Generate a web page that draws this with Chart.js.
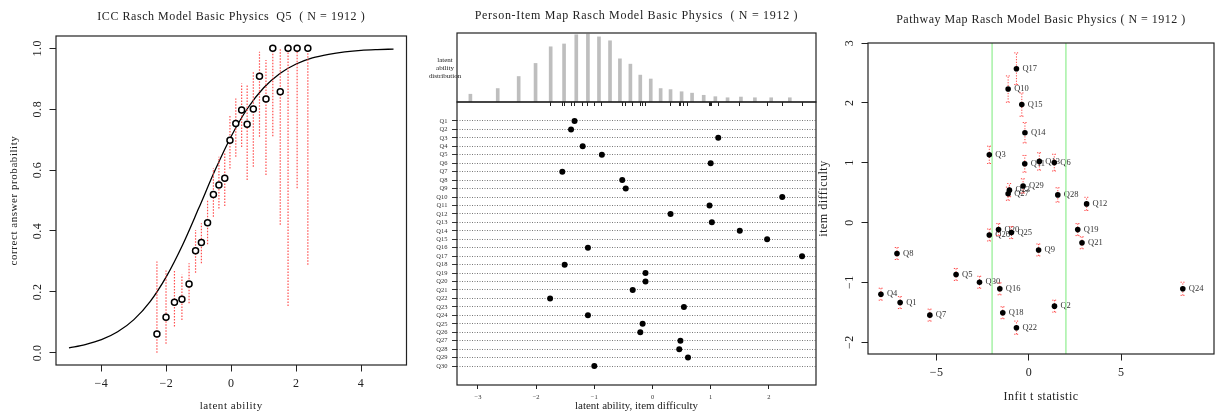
<!DOCTYPE html>
<html>
<head>
<meta charset="utf-8">
<script src="https://cdn.jsdelivr.net/npm/chart.js@4.4.1/dist/chart.umd.min.js"></script>
<style>
html, body { margin: 0; padding: 0; background: #fff; overflow: hidden; width: 1215px; height: 413px; }
canvas { position: absolute; }
#icc { left: 0; top: 0; }
#hist { left: 405px; top: 0; }
#dots { left: 405px; top: 90px; }
#path { left: 815px; top: 0; }
</style>
</head>
<body>
<canvas id="icc" width="412" height="413"></canvas>
<canvas id="hist" width="420" height="110"></canvas>
<canvas id="dots" width="420" height="323"></canvas>
<canvas id="path" width="403" height="413"></canvas>
<script>
// ---- data ----
const itemNames = ['Q1','Q2','Q3','Q4','Q5','Q6','Q7','Q8','Q9','Q10','Q11','Q12','Q13','Q14','Q15',
                   'Q16','Q17','Q18','Q19','Q20','Q21','Q22','Q23','Q24','Q25','Q26','Q27','Q28','Q29','Q30'];
const itemDifficulty = [-1.34, -1.40, 1.13, -1.20, -0.87, 1.00, -1.55, -0.52, -0.46, 2.23,
                        0.98, 0.31, 1.02, 1.50, 1.97, -1.11, 2.57, -1.51, -0.12, -0.12,
                        -0.34, -1.76, 0.54, -1.11, -0.17, -0.21, 0.48, 0.46, 0.61, -1.00];
const itemInfitT = [-6.98, 1.38, -2.15, -8.02, -3.95, 1.37, -5.37, -7.15, 0.52, -1.13,
                    -0.23, 3.12, 0.56, -0.22, -0.39, -1.58, -0.68, -1.42, 2.64, -1.65,
                    2.87, -0.68, -1.06, 8.33, -0.95, -2.15, -1.13, 1.56, -0.32, -2.68];
const itemCI = [0.10, 0.10, 0.145, 0.10, 0.10, 0.14, 0.10, 0.10, 0.10, 0.22,
                0.14, 0.11, 0.145, 0.17, 0.195, 0.10, 0.265, 0.10, 0.10, 0.10,
                0.10, 0.11, 0.11, 0.11, 0.10, 0.10, 0.11, 0.12, 0.12, 0.10];
const infitBounds = [-2, 2];

// person ability distribution (histogram)
const personAbility = [-3.13, -2.66, -2.30, -2.01, -1.75, -1.52, -1.31, -1.11, -0.92, -0.73,
                       -0.56, -0.38, -0.21, -0.03, 0.14, 0.31, 0.50, 0.68, 0.88, 1.08,
                       1.29, 1.52, 1.76, 2.04, 2.36];
const personCount = [22, 38, 72, 109, 156, 164, 190, 192, 184, 173,
                     122, 107, 76, 65, 38, 35, 29, 25, 19, 15,
                     12, 14, 12, 12, 12];

// ICC for Q5
const groupAbility = [-2.29, -2.01, -1.75, -1.52, -1.30, -1.10, -0.92, -0.73, -0.55, -0.38,
                      -0.20, -0.04, 0.14, 0.32, 0.49, 0.68, 0.87, 1.07, 1.28, 1.51,
                      1.75, 2.03, 2.36];
const observedProp = [0.062, 0.117, 0.166, 0.176, 0.226, 0.335, 0.362, 0.427, 0.520, 0.551,
                      0.573, 0.698, 0.753, 0.797, 0.750, 0.800, 0.908, 0.833, 1.0, 0.857,
                      1.0, 1.0, 1.0];
const ciLower = [0.0, 0.03, 0.086, 0.108, 0.163, 0.263, 0.294, 0.356, 0.447, 0.474,
                 0.482, 0.605, 0.644, 0.676, 0.567, 0.611, 0.709, 0.584, 0.711, 0.42,
                 0.154, 0.54, 0.289];
const ciUpper = [0.30, 0.27, 0.27, 0.256, 0.294, 0.403, 0.425, 0.50, 0.606, 0.644,
                 0.66, 0.777, 0.835, 0.884, 0.879, 0.922, 0.988, 0.961, 1.0, 1.0,
                 1.0, 1.0, 1.0];
const curveTheta = [-5, -4.5, -4, -3.5, -3, -2.5, -2, -1.5, -1, -0.5, 0,
                    0.5, 1, 1.5, 2, 2.5, 3, 3.5, 4, 4.5, 5];
const curveProb = [0.016, 0.027, 0.043, 0.069, 0.109, 0.168, 0.250, 0.354, 0.475, 0.599, 0.711,
                   0.802, 0.870, 0.917, 0.948, 0.968, 0.980, 0.988, 0.993, 0.9955, 0.997];

// tick labels
const iccXTicks = [-4, -2, 0, 2, 4];
const iccYTicks = [0, 0.2, 0.4, 0.6, 0.8, 1.0];
const mapXTicks = [-3, -2, -1, 0, 1, 2];
const pathXTicks = [-5, 0, 5];
const pathYTicks = [-2, -1, 0, 1, 2, 3];

// ---- helpers ----
Chart.defaults.font.family = "'Liberation Serif', 'DejaVu Serif', serif";
Chart.defaults.color = '#222';

const minus = v => String(v).replace('-', '\u2212');
const fixW = w => s => { s.width = w; };
const fixH = h => s => { s.height = h; };
const setTicks = arr => s => { s.ticks = arr.map(v => ({ value: v })); };

const boxPlugin = {
    id: 'box',
    afterDraw(chart) {
        const { ctx, chartArea: a } = chart;
        ctx.save();
        ctx.strokeStyle = '#222';
        ctx.lineWidth = 1.2;
        ctx.strokeRect(a.left, a.top, a.right - a.left, a.bottom - a.top);
        ctx.restore();
    }
};

// the original fonts are wider, so loosen the letters a bit
const spacing = px => ({
    id: 'spacing',
    beforeDraw(chart) { chart.ctx.letterSpacing = px + 'px'; }
});

const base = {
    responsive: false,
    animation: false,
    devicePixelRatio: 1,
    events: []
};

function titleOpts(text, top, bottom) {
    return { display: true, text: text, fullSize: false, color: '#222',
             font: { size: 12, weight: 'normal' }, padding: { top: top, bottom: bottom } };
}

// ---- ICC ----
const iccBars = groupAbility.flatMap((x, i) => [{ x, y: ciLower[i] }, { x, y: ciUpper[i] }, { x, y: null }]);

new Chart(document.getElementById('icc'), {
    type: 'line',
    data: {
        datasets: [
            {
                data: groupAbility.map((x, i) => ({ x, y: observedProp[i] })),
                showLine: false, pointRadius: 3, pointBorderWidth: 1.5,
                pointBorderColor: '#000', pointBackgroundColor: '#fff'
            },
            {
                data: iccBars, borderColor: 'rgba(255,60,60,0.9)', borderWidth: 1.2,
                borderDash: [1.5, 1.5], pointRadius: 0, spanGaps: false
            },
            {
                data: curveTheta.map((x, i) => ({ x, y: curveProb[i] })),
                borderColor: '#000', borderWidth: 1.3, pointRadius: 0,
                cubicInterpolationMode: 'monotone'
            }
        ]
    },
    options: {
        ...base,
        layout: { padding: { left: 0, right: 3, top: 0, bottom: 0 } },
        plugins: {
            legend: { display: false }, tooltip: { enabled: false },
            title: titleOpts('ICC Rasch Model Basic Physics  Q5  ( N = 1912 )', 9.8, 11.8)
        },
        scales: {
            x: {
                type: 'linear', min: -5.4, max: 5.4,
                afterBuildTicks: setTicks(iccXTicks), afterFit: fixH(48),
                ticks: { callback: minus, padding: 4.8, font: { size: 12 }, autoSkip: false, maxRotation: 0 },
                grid: { drawOnChartArea: false, tickLength: 6.5, color: '#222' },
                border: { display: false },
                title: { display: true, text: 'latent ability', font: { size: 11 }, padding: { top: 0, bottom: 0 } }
            },
            y: {
                type: 'linear', min: -0.04, max: 1.04,
                afterBuildTicks: setTicks(iccYTicks), afterFit: fixW(56),
                ticks: { callback: v => v.toFixed(1), minRotation: 90, maxRotation: 90, crossAlign: 'center',
                         padding: 4, font: { size: 12 }, autoSkip: false },
                grid: { drawOnChartArea: false, tickLength: 6.5, color: '#222' },
                border: { display: false },
                title: { display: true, text: 'correct answer probability', font: { size: 11 }, padding: { top: 7.4, bottom: 0 } }
            }
        }
    },
    plugins: [spacing(0.55), boxPlugin]
});

// ---- Person-item map: ability histogram ----
const sideLabel = {
    id: 'sideLabel',
    afterDraw(chart) {
        const ctx = chart.ctx;
        ctx.save();
        ctx.letterSpacing = '0px';
        ctx.fillStyle = '#222';
        ctx.font = "7px 'Liberation Serif', serif";
        ctx.textAlign = 'center';
        ctx.textBaseline = 'middle';
        ['latent', 'ability', 'distribution'].forEach((t, i) => ctx.fillText(t, 40, 60 + i * 8.2));
        ctx.restore();
    }
};

new Chart(document.getElementById('hist'), {
    type: 'bar',
    data: {
        datasets: [{
            data: personAbility.map((x, i) => ({ x, y: personCount[i] })),
            backgroundColor: '#bebebe', barThickness: 3
        }]
    },
    options: {
        ...base,
        layout: { padding: { left: 52, right: 9, top: 0, bottom: 0 } },
        plugins: {
            legend: { display: false }, tooltip: { enabled: false },
            title: titleOpts('Person-Item Map Rasch Model Basic Physics  ( N = 1912 )', 8.8, 9.8)
        },
        scales: {
            x: {
                type: 'linear', min: -3.36, max: 2.81, offset: false,
                afterBuildTicks: setTicks(itemDifficulty), afterFit: fixH(8),
                ticks: { display: false },
                grid: { offset: false, drawOnChartArea: false, tickLength: 4, color: '#222', lineWidth: 1 },
                border: { display: false }
            },
            y: { display: false, min: 0, max: 195 }
        }
    },
    plugins: [spacing(0.7), boxPlugin, sideLabel]
});

// ---- Person-item map: item difficulties ----
new Chart(document.getElementById('dots'), {
    type: 'line',
    data: {
        datasets: [{
            data: itemDifficulty.map((x, i) => ({ x, y: i + 1 })),
            showLine: false, pointRadius: 3, pointBorderWidth: 0,
            pointBackgroundColor: '#000'
        }]
    },
    options: {
        ...base,
        layout: { padding: { left: 0, right: 9, top: 12, bottom: 0 } },
        plugins: { legend: { display: false }, tooltip: { enabled: false } },
        scales: {
            x: {
                type: 'linear', min: -3.36, max: 2.81,
                afterBuildTicks: setTicks(mapXTicks), afterFit: fixH(28),
                ticks: { callback: minus, padding: 4, font: { size: 6.5 }, color: '#333', autoSkip: false, maxRotation: 0 },
                grid: { drawOnChartArea: false, tickLength: 4, color: '#222' },
                border: { display: false },
                title: { display: true, text: 'latent ability, item difficulty', font: { size: 11 }, padding: { top: 0, bottom: 0.3 } }
            },
            y: {
                type: 'linear', reverse: true, min: -1.24, max: 32.24,
                afterBuildTicks: setTicks(itemNames.map((n, i) => i + 1)), afterFit: fixW(52),
                ticks: { callback: v => itemNames[v - 1], padding: 4.5, font: { size: 6.5 }, color: '#333', autoSkip: false },
                grid: { drawOnChartArea: true, tickLength: 5, color: '#555', lineWidth: 0.8,
                        tickColor: '#333', tickWidth: 1, tickBorderDash: [] },
                border: { display: false, dash: [1, 1.5] }
            }
        }
    },
    plugins: [boxPlugin]
});

// ---- Pathway map ----
const pathBars = itemInfitT.flatMap((x, i) => {
    const lo = itemDifficulty[i] - itemCI[i], hi = itemDifficulty[i] + itemCI[i];
    return [
        { x, y: lo }, { x, y: hi }, { x, y: null },
        { x: x - 0.12, y: hi }, { x: x + 0.12, y: hi }, { x, y: null },
        { x: x - 0.12, y: lo }, { x: x + 0.12, y: lo }, { x, y: null }
    ];
});
const pathYRange = [-2.2, 3.0];
const boundLines = infitBounds.flatMap(x => [{ x, y: pathYRange[0] }, { x, y: pathYRange[1] }, { x, y: null }]);

const pointLabels = {
    id: 'pointLabels',
    beforeDatasetsDraw(chart) {
        const ctx = chart.ctx;
        const meta = chart.getDatasetMeta(0);
        ctx.save();
        ctx.letterSpacing = '0px';
        ctx.fillStyle = '#333';
        ctx.font = "8.5px 'Liberation Serif', serif";
        ctx.textAlign = 'left';
        ctx.textBaseline = 'middle';
        meta.data.forEach((pt, i) => ctx.fillText(itemNames[i], pt.x + 6, pt.y));
        ctx.restore();
    }
};

new Chart(document.getElementById('path'), {
    type: 'line',
    data: {
        datasets: [
            {
                data: itemInfitT.map((x, i) => ({ x, y: itemDifficulty[i] })),
                showLine: false, pointRadius: 2.8, pointBorderWidth: 0,
                pointBackgroundColor: '#000'
            },
            {
                data: pathBars, borderColor: 'rgba(255,50,50,0.9)', borderWidth: 1,
                borderDash: [1.2, 1.5], pointRadius: 0, spanGaps: false
            },
            {
                data: boundLines, borderColor: '#90ee90', borderWidth: 1.2,
                pointRadius: 0, spanGaps: false
            }
        ]
    },
    options: {
        ...base,
        layout: { padding: { left: 0, right: 2, top: 0, bottom: 0 } },
        plugins: {
            legend: { display: false }, tooltip: { enabled: false },
            title: titleOpts('Pathway Map Rasch Model Basic Physics ( N = 1912 )', 12.8, 15.8)
        },
        scales: {
            x: {
                type: 'linear', min: -8.72, max: 10.02,
                afterBuildTicks: setTicks(pathXTicks), afterFit: fixH(59),
                ticks: { callback: minus, padding: 5.5, font: { size: 12 }, autoSkip: false, maxRotation: 0 },
                grid: { drawOnChartArea: false, tickLength: 6.5, color: '#222' },
                border: { display: false },
                title: { display: true, text: 'Infit t statistic', font: { size: 12 }, padding: { top: 0, bottom: 8.5 } }
            },
            y: {
                type: 'linear', min: pathYRange[0], max: pathYRange[1],
                afterBuildTicks: setTicks(pathYTicks), afterFit: fixW(53),
                ticks: { callback: minus, minRotation: 90, maxRotation: 90, crossAlign: 'center',
                         padding: 5.5, font: { size: 12 }, autoSkip: false },
                grid: { drawOnChartArea: false, tickLength: 6.5, color: '#222' },
                border: { display: false },
                title: { display: true, text: 'item difficulty', font: { size: 12 }, padding: { top: 1.8, bottom: 0 } }
            }
        }
    },
    plugins: [spacing(0.5), boxPlugin, pointLabels]
});
</script>
</body>
</html>
